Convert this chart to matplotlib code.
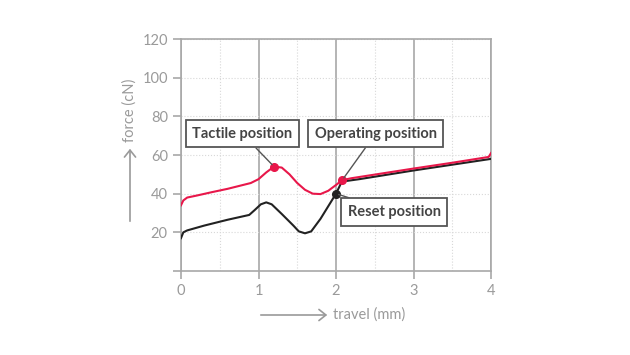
import matplotlib.pyplot as plt
from matplotlib.ticker import MultipleLocator

plt.rcParams['font.family'] = ['Lato', 'DejaVu Sans']

# red (press) curve
red_x = [0.0, 0.03, 0.08, 0.2, 0.4, 0.6, 0.8, 0.9, 1.0, 1.1, 1.2, 1.3, 1.4, 1.5,
         1.6, 1.7, 1.8, 1.9, 2.0, 2.08, 2.2, 2.6, 3.0, 3.5, 3.97, 4.0]
red_y = [34, 36.5, 38, 39, 40.8, 42.5, 44.5, 45.5, 47.5, 51, 54, 53.5, 50, 45.5,
         42, 40, 39.8, 41.5, 44.5, 47, 48, 50.5, 53, 56, 59, 61]

# black (release) curve
blk_x = [0.0, 0.03, 0.08, 0.3, 0.6, 0.88, 0.95, 1.03, 1.1, 1.17, 1.3, 1.45, 1.52,
         1.6, 1.68, 1.8, 1.9, 2.0, 2.06, 2.12, 2.3, 3.0, 3.5, 4.0]
blk_y = [17, 20, 21, 23.5, 26.5, 29, 31.5, 34.5, 35.5, 34.5, 29.5, 23.5, 20.5,
         19.5, 20.5, 27, 33.5, 40, 45, 46.5, 47.5, 52, 55, 58]

# labelled points: (text, point, text position)
labels = ['Tactile position', 'Operating position', 'Reset position']
pts = [(1.2, 54), (2.08, 47), (2.0, 40)]
txt_pos = [(0.79, 71), (2.51, 71), (2.75, 30.5)]
pt_colors = ['#e8174a', '#e8174a', '#222222']

RED = '#e8174a'
GRAY = '#9a9a9a'

fig = plt.figure(figsize=(6.3, 3.55), dpi=100)
ax = fig.add_axes([0.2873, 0.2366, 0.4921, 0.6535])

ax.set_xlim(0, 4)
ax.set_ylim(0, 120)
ax.xaxis.set_major_locator(MultipleLocator(1))
ax.xaxis.set_minor_locator(MultipleLocator(0.5))
ax.yaxis.set_major_locator(MultipleLocator(20))

# grid: solid verticals at whole mm, dotted elsewhere
ax.grid(which='major', axis='x', color='#a8a8a8', lw=1.2, ls='-')
ax.grid(which='minor', axis='x', color='#d8d8d8', lw=0.8, ls=':')
ax.grid(which='major', axis='y', color='#d8d8d8', lw=0.8, ls=':')
ax.axhline(120, color='#a8a8a8', lw=1.2, clip_on=False)

for s in ['left', 'bottom', 'right']:
    ax.spines[s].set_color('#a8a8a8')
    ax.spines[s].set_linewidth(1.2)
ax.spines['top'].set_visible(False)

ax.tick_params(which='major', color='#a8a8a8', width=1.2, length=6,
               labelcolor=GRAY, labelsize=10.5)
ax.tick_params(which='minor', length=0)
ax.set_yticks([0, 20, 40, 60, 80, 100, 120])
ax.set_yticklabels(['', '20', '40', '60', '80', '100', '120'])

ax.plot(blk_x, blk_y, color='#222222', lw=1.5, zorder=3)
ax.plot(red_x, red_y, color=RED, lw=1.5, zorder=4)

for (lab, (px, py), (tx, ty), c) in zip(labels, pts, txt_pos, pt_colors):
    ax.plot(px, py, 'o', color=c, ms=5.5, zorder=5)
    ax.annotate(lab, xy=(px, py), xytext=(tx, ty), ha='center', va='center',
                fontsize=10.5, fontweight='bold', color='#444444',
                bbox=dict(boxstyle='square,pad=0.45', fc='white', ec='#555555', lw=1.3),
                arrowprops=dict(arrowstyle='-', color='#555555', lw=1,
                                shrinkA=0, shrinkB=2), zorder=6)

# axis titles with arrows
fig.patches.append(plt.matplotlib.patches.FancyArrowPatch(
    (258 / 630, 1 - 315 / 355), (330 / 630, 1 - 315 / 355),
    transform=fig.transFigure, arrowstyle='->,head_length=5,head_width=4',
    color=GRAY, lw=1.2, mutation_scale=1))
fig.text(333 / 630, 1 - 315 / 355, 'travel (mm)', color=GRAY, fontsize=10.5,
         ha='left', va='center')
fig.patches.append(plt.matplotlib.patches.FancyArrowPatch(
    (130 / 630, 1 - 224 / 355), (130 / 630, 1 - 146 / 355),
    transform=fig.transFigure, arrowstyle='->,head_length=5,head_width=4',
    color=GRAY, lw=1.2, mutation_scale=1))
fig.text(130 / 630, 1 - 142 / 355, 'force (cN)', color=GRAY, fontsize=10.5,
         ha='center', va='bottom', rotation=90)

fig.savefig('out.png', dpi=100)
